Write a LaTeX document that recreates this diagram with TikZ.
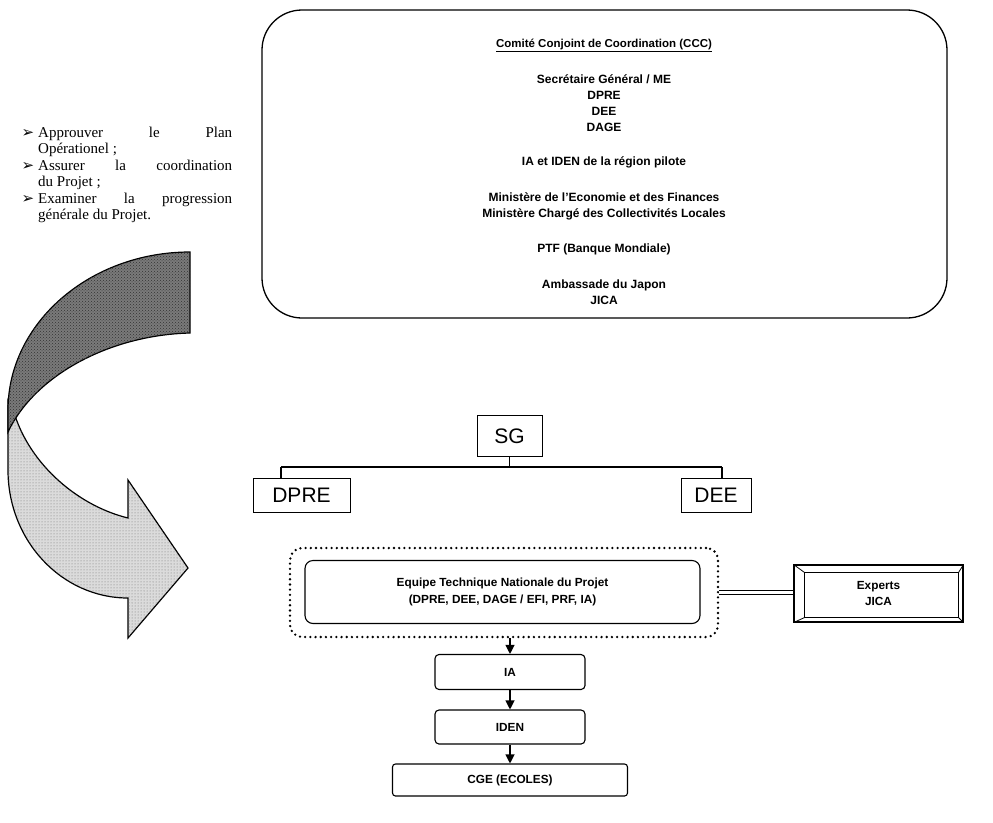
\documentclass[tikz,border=0pt]{standalone}
\usepackage{fontspec}
\setmainfont{Liberation Sans}
\newfontfamily\serifT{Liberation Serif}
\newfontfamily\dejavu{DejaVu Sans}
\usetikzlibrary{arrows.meta,calc,patterns}
\begin{document}
\begin{tikzpicture}[x=1pt,y=-1pt,
  ccctext/.style={font=\fontsize{12}{16}\selectfont\bfseries, align=center, inner sep=0pt},
  bigbox/.style={draw, line width=1pt, font=\fontsize{21}{24}\selectfont, inner sep=0pt},
  smallbox/.style={draw, line width=1.1pt, rounded corners=4pt, font=\fontsize{11.8}{16.5}\selectfont\bfseries, inner sep=0pt, align=center},
  flow/.style={line width=1.1pt, -{Triangle[width=9pt,length=9pt]}},
  bul/.style={font=\dejavu\fontsize{15}{16}\selectfont, inner sep=0pt},
  bultext/.style={font=\serifT\fontsize{15}{15.5}\selectfont, text width=194pt, align=justify, inner sep=0pt, anchor=north west},
  dotline/.style={line width=2.6pt, dash pattern=on 0pt off 5.2pt, line cap=round}
]
\useasboundingbox (0,0) rectangle (993,822);

% CCC box
\node[draw, line width=1.3pt, rounded corners=40pt, minimum width=685, minimum height=308, inner sep=0pt] (ccc) at (604.5,164) {};
\node[ccctext, font=\fontsize{11.5}{16}\selectfont\bfseries] (h) at (604,45) {\underline{Comit\'e Conjoint de Coordination (CCC)}};
\node[ccctext] (t1) at (604,103) {Secr\'etaire G\'en\'eral / ME\\DPRE\\DEE\\DAGE};
\node[ccctext] (t2) at (604,162) {IA et IDEN de la r\'egion pilote};
\node[ccctext] (t3) at (604,206) {Minist\`ere de l’Economie et des Finances\\Minist\`ere Charg\'e des Collectivit\'es Locales};
\node[ccctext] (t4) at (604,249) {PTF (Banque Mondiale)};
\node[ccctext] (t5) at (604,292) {Ambassade du Japon\\JICA};

% bullets
\node[bul] (b1) at (28,133) {➢};
\node[bultext] (i1) at (38,127) {Approuver le Plan\linebreak Op\'erationel ;};
\node[bul] (b2) at (28,166) {➢};
\node[bultext] (i2) at (38,160) {Assurer la coordination\linebreak du Projet ;};
\node[bul] (b3) at (28,199) {➢};
\node[bultext] (i3) at (38,193) {Examiner la progression\linebreak g\'en\'erale du Projet.};

% curved arrow: light lower part
\filldraw[line width=1.2pt, fill=black!14]
  (8,400) -- (8,470) .. controls (8,541) and (62,598) .. (128,598)
  -- (128,638) -- (188,568) -- (128,480) -- (128,518)
  .. controls (75,505) and (25,460) .. (12,405) -- cycle;
\path[pattern=dots, pattern color=black!55]
  (8,400) -- (8,470) .. controls (8,541) and (62,598) .. (128,598)
  -- (128,638) -- (188,568) -- (128,480) -- (128,518)
  .. controls (75,505) and (25,460) .. (12,405) -- cycle;
% dark upper part
\filldraw[line width=1.2pt, fill=black!52]
  (190,252) .. controls (90,252) and (8,323) .. (8,410) -- (8,432)
  .. controls (35,375) and (110,335) .. (190,333) -- cycle;
\path[pattern=crosshatch dots, pattern color=black!80]
  (190,252) .. controls (90,252) and (8,323) .. (8,410) -- (8,432)
  .. controls (35,375) and (110,335) .. (190,333) -- cycle;

% org chart
\node[bigbox, minimum width=65, minimum height=41] (sg) at (509.5,436) {SG};
\node[bigbox, minimum width=97, minimum height=34] (dpre) at (301.5,495) {DPRE};
\node[bigbox, minimum width=70, minimum height=34] (dee) at (716,495) {DEE};
\coordinate (jl) at (281,467);
\coordinate (jr) at (722,467);
\draw[line width=1.1pt] (sg.south) -- (sg.south |- jl);
\draw[line width=1.1pt] (jl) -- (jr);
\draw[line width=1.1pt] (jl) -- (jl |- dpre.north);
\draw[line width=1.1pt] (jr) -- (jr |- dee.north);

\node[dotline, draw, rounded corners=12pt, minimum width=428, minimum height=89, inner sep=0pt] (dot) at (504,592.5) {};
\node[smallbox, rounded corners=8pt, minimum width=395, minimum height=63] (etn) at (502.5,592) {Equipe Technique Nationale du Projet\\(DPRE, DEE, DAGE / EFI, PRF, IA)};

\node[draw, line width=1.2pt, minimum width=169, minimum height=57, inner sep=0pt, align=center, font=\fontsize{11.8}{16.5}\selectfont\bfseries] (exp) at (878.5,593.5) {Experts\\JICA};
\draw[line width=1pt] ($(exp.north west)+(11,8)$) rectangle ($(exp.south east)+(-5,-5)$);
\draw[line width=0.8pt] (exp.north west) -- ($(exp.north west)+(11,8)$);
\draw[line width=0.8pt] (exp.south west) -- ($(exp.south west)+(11,-5)$);
\draw[line width=0.8pt] (exp.north east) -- ($(exp.north east)+(-5,8)$);
\draw[line width=0.8pt] (exp.south east) -- ($(exp.south east)+(-5,-5)$);
\draw[double, double distance=3pt, line width=1pt] (dot.east) -- (dot.east -| exp.west);

\node[smallbox, minimum width=150, minimum height=35] (ia) at (510,672) {IA};
\node[smallbox, minimum width=150, minimum height=34] (iden) at (510,727) {IDEN};
\node[smallbox, rounded corners=3pt, minimum width=235, minimum height=32] (cge) at (510,780) {CGE (ECOLES)};
\draw[flow] (dot.south -| ia.north) -- (ia.north);
\draw[flow] (ia.south) -- (iden.north);
\draw[flow] (iden.south) -- (cge.north);
\end{tikzpicture}
\end{document}
